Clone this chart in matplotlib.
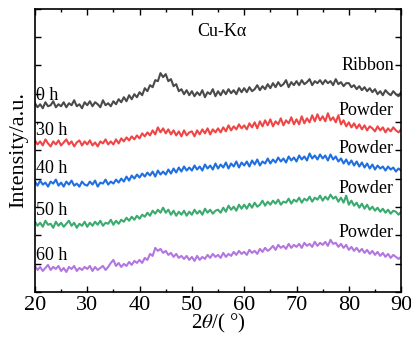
import numpy as np
import matplotlib
matplotlib.use('Agg')
import matplotlib.pyplot as plt

plt.rcParams['font.family'] = ['Liberation Serif', 'DejaVu Serif']
plt.rcParams['mathtext.fontset'] = 'stix'

# ---------- data (offset intensities, a.u.) ----------
two_theta = np.arange(20, 90.25, 0.5)

int_0h = [
    188, 184, 187, 183, 189, 185, 186, 190, 184, 187,
    185, 189, 184, 188, 186, 191, 185, 187, 183, 189,
    186, 190, 185, 189, 187, 184, 191, 186, 188, 185,
    190, 187, 192, 189, 194, 190, 196, 192, 197, 194,
    199, 196, 203, 200, 206, 204, 211, 210, 218, 214,
    217, 210, 212, 205, 207, 200, 202, 197, 201, 196,
    200, 195, 199, 196, 201, 194, 199, 197, 202, 195,
    200, 196, 201, 197, 202, 198, 201, 197, 203, 199,
    203, 199, 204, 200, 202, 206, 201, 205, 202, 207,
    203, 208, 204, 209, 205, 207, 211, 204, 209, 206,
    210, 206, 211, 207, 209, 212, 206, 210, 208, 211,
    207, 211, 208, 210, 206, 212, 207, 209, 205, 208,
    208, 204, 206, 202, 205, 201, 204, 200, 203, 199,
    202, 197, 200, 196, 201, 198, 196, 200, 197, 195,
    199]
int_30h = [
    151, 147, 150, 146, 152, 148, 145, 150, 147, 151,
    146, 149, 152, 147, 150, 145, 149, 151, 146, 150,
    147, 151, 146, 149, 145, 150, 148, 152, 147, 150,
    147, 152, 148, 153, 150, 154, 151, 155, 152, 156,
    153, 158, 155, 159, 156, 161, 157, 164, 159, 163,
    158, 162, 157, 161, 156, 160, 155, 161, 156, 159,
    160, 155, 161, 157, 162, 158, 163, 157, 162, 159,
    163, 159, 164, 160, 166, 161, 165, 162, 167, 163,
    166, 162, 168, 164, 169, 163, 170, 165, 171, 166,
    172, 165, 170, 167, 173, 166, 171, 168, 174, 167,
    172, 167, 175, 168, 173, 169, 176, 170, 177, 171,
    175, 170, 178, 171, 174, 169, 176, 167, 171, 165,
    169, 164, 168, 163, 167, 162, 166, 161, 165, 163,
    160, 165, 161, 164, 159, 163, 160, 164, 161, 159,
    162]
int_40h = [
    110, 106, 111, 107, 109, 105, 110, 108, 112, 106,
    109, 105, 110, 107, 111, 106, 108, 105, 110, 107,
    106, 110, 107, 111, 105, 109, 108, 112, 107, 110,
    108, 112, 109, 113, 110, 115, 111, 116, 113, 117,
    114, 118, 115, 119, 116, 120, 115, 121, 117, 120,
    117, 122, 118, 123, 119, 124, 120, 125, 121, 124,
    121, 126, 122, 125, 121, 127, 123, 126, 122, 128,
    123, 127, 124, 129, 123, 128, 125, 130, 124, 129,
    126, 130, 125, 131, 127, 132, 126, 130, 128, 133,
    128, 132, 129, 134, 130, 133, 129, 135, 131, 134,
    130, 136, 132, 135, 131, 138, 133, 136, 132, 137,
    133, 136, 131, 137, 132, 135, 130, 133, 128, 132,
    127, 131, 126, 130, 125, 129, 124, 128, 123, 127,
    122, 126, 123, 125, 121, 125, 122, 124, 120, 123,
    121]
int_50h = [
    70, 66, 69, 65, 71, 67, 68, 64, 70, 66,
    69, 65, 68, 71, 66, 69, 64, 68, 66, 70,
    65, 69, 66, 70, 67, 71, 66, 69, 68, 72,
    67, 71, 68, 72, 70, 74, 71, 75, 72, 76,
    73, 77, 75, 79, 76, 81, 78, 82, 79, 84,
    79, 82, 77, 81, 76, 80, 77, 81, 76, 80,
    77, 82, 78, 81, 77, 83, 79, 82, 78, 81,
    82, 79, 84, 80, 86, 82, 85, 81, 87, 83,
    87, 83, 88, 84, 89, 85, 87, 91, 86, 90,
    87, 91, 88, 92, 87, 90, 89, 93, 88, 92,
    90, 94, 89, 93, 91, 95, 90, 94, 92, 96,
    91, 95, 92, 97, 93, 95, 90, 94, 89, 96,
    87, 91, 86, 89, 84, 88, 83, 87, 82, 85,
    81, 84, 80, 83, 79, 82, 78, 81, 80, 77,
    80]
int_60h = [
    26, 22, 25, 21, 24, 27, 22, 25, 23, 26,
    21, 24, 20, 25, 23, 26, 21, 24, 22, 25,
    23, 26, 21, 25, 22, 24, 26, 22, 25, 29,
    32, 26, 29, 25, 28, 26, 30, 27, 31, 29,
    32, 29, 34, 32, 38, 36, 44, 41, 43, 39,
    41, 37, 39, 35, 38, 34, 36, 33, 36, 32,
    35, 31, 36, 32, 35, 33, 37, 34, 38, 35,
    37, 34, 39, 35, 38, 36, 40, 37, 41, 38,
    40, 37, 42, 39, 41, 38, 43, 40, 44, 41,
    43, 46, 42, 47, 44, 46, 43, 48, 44, 47,
    45, 48, 44, 49, 46, 48, 45, 50, 46, 49,
    47, 50, 46, 52, 48, 49, 45, 48, 44, 47,
    42, 45, 41, 44, 40, 43, 39, 42, 38, 41,
    37, 40, 36, 39, 35, 38, 34, 37, 35, 33,
    35]

series = [int_0h, int_30h, int_40h, int_50h, int_60h]
colors = ['#4a4a4a', '#f04545', '#1f6fe0', '#3aaa6e', '#b276e0']
time_labels = ['0 h', '30 h', '40 h', '50 h', '60 h']
time_label_y = [196, 161, 123, 81, 36]
form_labels = ['Ribbon', 'Powder', 'Powder', 'Powder', 'Powder']
form_label_y = [226, 181, 143, 103, 59]

fig = plt.figure(figsize=(4.11, 3.40), dpi=100)
ax = fig.add_axes([0.085, 0.141, 0.891, 0.833])

for y, c in zip(series, colors):
    ax.plot(two_theta, y, color=c, linewidth=1.5)

for lab, yy in zip(time_labels, time_label_y):
    ax.text(20.15, yy, lab, fontsize=13, ha='left', va='center')
for lab, yy in zip(form_labels, form_label_y):
    ax.text(88.6, yy, lab, fontsize=13, ha='right', va='center')
ax.text(55.8, 259, 'Cu-K\u03b1', fontsize=13, ha='center', va='center')

ax.set_xlim(20, 90)
ax.set_ylim(0, 282)
ax.set_xticks(np.arange(20, 91, 10))
ax.set_xticks(np.arange(25, 90, 10), minor=True)
ax.set_yticks(np.linspace(0, 282, 11))
ax.set_yticklabels([])
ax.tick_params(axis='both', which='both', direction='in', top=True, right=True, width=1.0)
ax.tick_params(axis='both', which='major', length=4, labelsize=16, pad=3)
ax.tick_params(axis='x', which='minor', length=2.5)
for s in ax.spines.values():
    s.set_linewidth(1.2)

ax.set_xlabel(r'2$\theta$/( °)', fontsize=15, labelpad=-2)
ax.set_ylabel('Intensity/a.u.', fontsize=16, labelpad=2)

fig.savefig('out.png', dpi=100)
